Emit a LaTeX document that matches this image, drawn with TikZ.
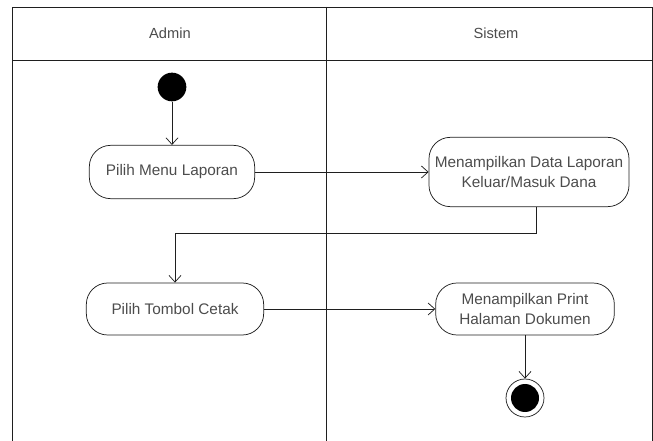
\documentclass[tikz,border=0pt]{standalone}
\usepackage{fontspec}
\setmainfont{Liberation Sans}
\usetikzlibrary{arrows.meta, positioning}
\definecolor{lineBlack}{gray}{0.12}
\definecolor{textGray}{gray}{0.3}

\tikzset{
    lane/.style={text=textGray, font=\fontsize{11}{14}\selectfont},
    act/.style={draw=lineBlack, rounded corners=16pt, align=center, inner sep=1pt,
        text=textGray, font=\fontsize{11.5}{15}\selectfont},
    startnode/.style={circle, fill=black, minimum size=21.5pt, inner sep=0pt},
    endnode/.style={circle, draw=lineBlack, minimum size=28.5pt, inner sep=0pt,
        path picture={\fill[black] (path picture bounding box.center) circle (10.5pt);}},
}

\begin{document}
\begin{tikzpicture}[x=0.75pt, y=-0.75pt, line width=0.55pt, >={Straight Barb[length=5pt, width=9pt]}]
    \useasboundingbox (0,0) rectangle (653,441);

    % Swimlanes
    \draw[lineBlack] (12,441) -- (12,7) -- (652,7) -- (652,441);
    \draw[lineBlack] (12,60) -- (652,60);
    \draw[lineBlack] (326,7) -- (326,441);
    \node[lane] (admin) at (170,33) {Admin};
    \node[lane] (sistem) at (496,33) {Sistem};

    % Activities
    \node[startnode] (start) at (172,87) {};
    \node[act, minimum width=124pt, minimum height=40pt] (menu) at (172,172) {Pilih Menu Laporan};
    \node[act, minimum width=150pt, minimum height=52pt] (data) at (529,172) {Menampilkan Data Laporan\\Keluar/Masuk Dana};
    \node[act, minimum width=133pt, minimum height=39pt] (cetak) at (175,309) {Pilih Tombol Cetak};
    \node[act, minimum width=134pt, minimum height=39pt] (print) at (525,309) {Menampilkan Print\\Halaman Dokumen};
    \node[endnode] (stop) at (525,398) {};

    \coordinate (turn) at (536,233); % bend below data

    % Flow
    \draw[->, lineBlack] (start) -- (menu);
    \draw[->, lineBlack] (menu) -- (data);
    \draw[->, lineBlack] (data.south -| turn) -- (turn) -| (cetak);
    \draw[->, lineBlack] (cetak) -- (print);
    \draw[->, lineBlack] (print) -- (stop);
\end{tikzpicture}
\end{document}
